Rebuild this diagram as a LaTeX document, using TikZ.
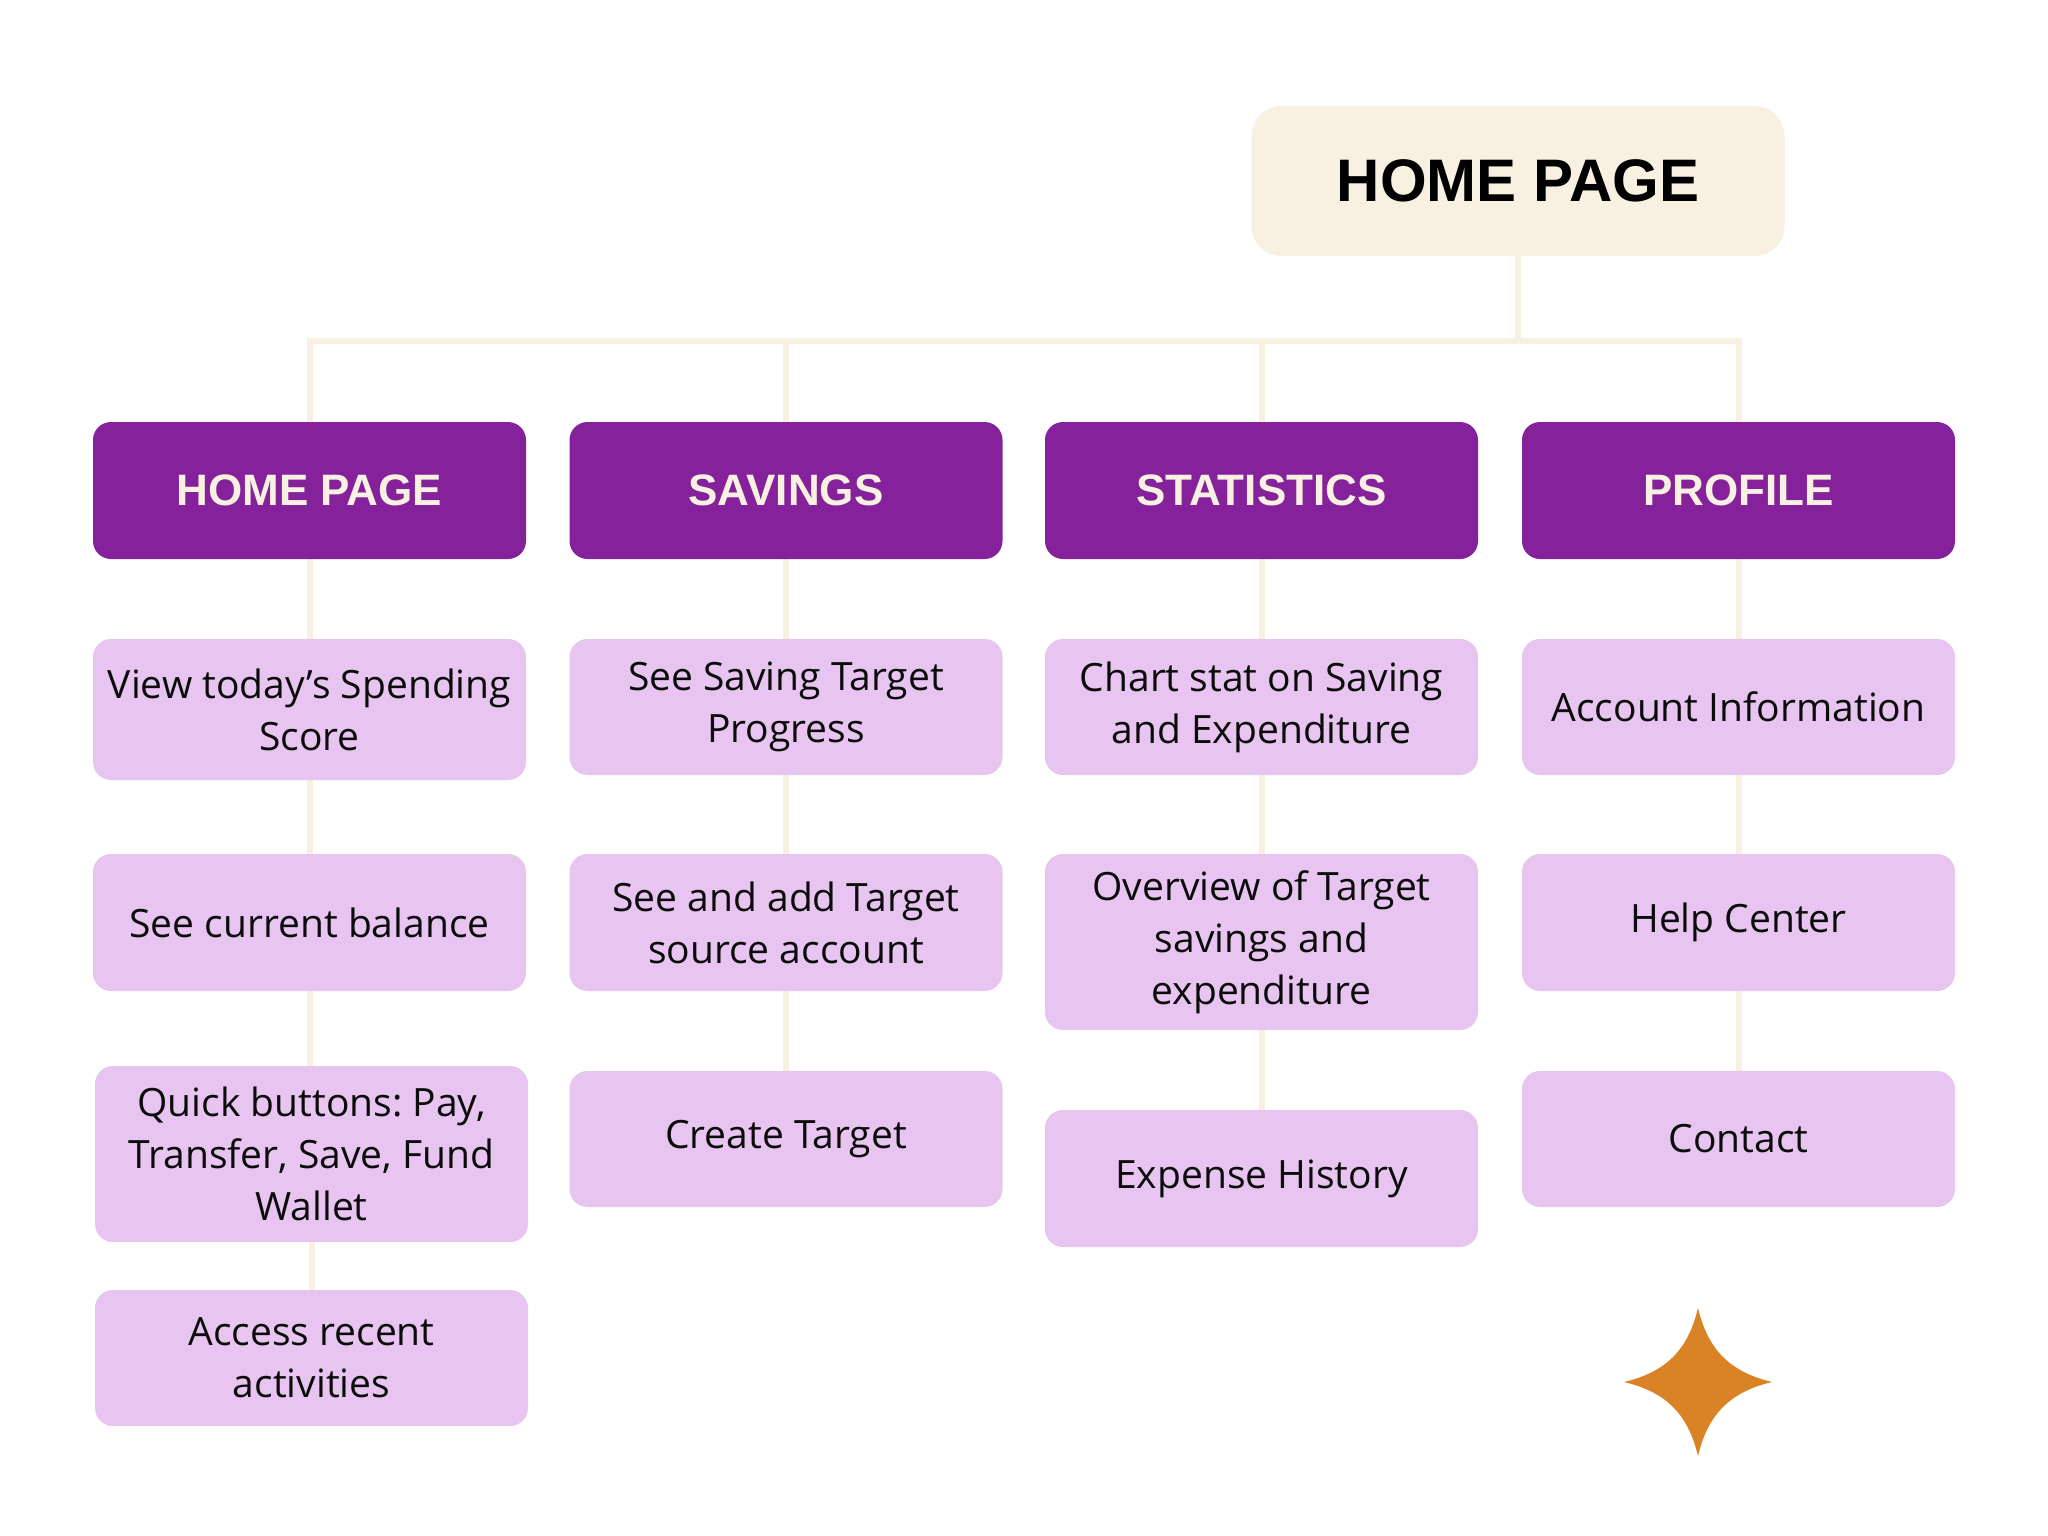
\documentclass[tikz,border=0pt]{standalone}
\usepackage{fontspec}
\setmainfont{Open Sans}
\newfontfamily\headfont{Liberation Sans}
\usetikzlibrary{backgrounds}
\definecolor{cream}{RGB}{248,240,224}
\definecolor{purp}{RGB}{134,33,156}
\definecolor{pinkbox}{RGB}{232,197,240}
\definecolor{starc}{RGB}{217,131,38}
\definecolor{ink}{RGB}{12,12,12}
\frenchspacing
\tikzset{
  titlebox/.style={fill=cream, rounded corners=30pt, minimum width=533pt, minimum height=150pt, inner sep=0pt,
    font=\headfont\bfseries\fontsize{60}{60}\selectfont, text=black},
  headbox/.style={fill=purp, rounded corners=18pt, minimum width=433pt, minimum height=137pt, inner sep=0pt,
    font=\headfont\bfseries\fontsize{44}{44}\selectfont, text=cream},
  itembox/.style={fill=pinkbox, rounded corners=18pt, minimum width=433pt, inner sep=0pt, align=center,
    font=\fontsize{39}{52}\selectfont, text=ink},
  conn/.style={draw=cream, line width=6pt, line join=miter}
}
\begin{document}
\begin{tikzpicture}[x=1pt,y=-1pt]
\useasboundingbox (0,0) rectangle (2048,1536);

\node[titlebox] (title) at (1518,181) {HOME PAGE};

\node[headbox] (h1) at (309.5,490.5) {HOME PAGE};
\node[headbox] (h2) at (786,490.5) {SAVINGS};
\node[headbox] (h3) at (1261.5,490.5) {STATISTICS};
\node[headbox] (h4) at (1738.5,490.5) {PROFILE};

\node[itembox, minimum height=141pt] (a1) at (309.5,709.5) {View today’s Spending\\Score};
\node[itembox, minimum height=137pt] (a2) at (309.5,922.5) {See current balance};
\node[itembox, minimum height=176pt] (a3) at (311.5,1154) {Quick buttons: Pay,\\Transfer, Save, Fund\\Wallet};
\node[itembox, minimum height=136pt] (a4) at (311.5,1358) {Access recent\\activities};

\node[itembox, minimum height=136pt] (b1) at (786,707) {See Saving Target\\Progress};
\node[itembox, minimum height=137pt] (b2) at (786,922.5) {See and add Target\\source account};
\node[itembox, minimum height=136pt] (b3) at (786,1139) {Create Target};

\node[itembox, minimum height=136pt] (c1) at (1261.5,707) {Chart stat on Saving\\and Expenditure};
\node[itembox, minimum height=176pt] (c2) at (1261.5,942) {Overview of Target\\savings and\\expenditure};
\node[itembox, minimum height=137pt] (c3) at (1261.5,1178.5) {Expense History};

\node[itembox, minimum height=136pt] (d1) at (1738.5,707) {Account Information};
\node[itembox, minimum height=137pt] (d2) at (1738.5,922.5) {Help Center};
\node[itembox, minimum height=136pt] (d3) at (1738.5,1139) {Contact};

\coordinate (bus) at (1518,341);

\begin{scope}[on background layer]
\fill[white] (0,0) rectangle (2048,1536);
\draw[conn] (title.south) -- (bus);
\draw[conn] (h1.north) -- (h1.north |- bus) -- (h4.north |- bus) -- (h4.north);
\draw[conn] (h2.north) -- (h2.north |- bus);
\draw[conn] (h3.north) -- (h3.north |- bus);
\draw[conn] (h1.south) -- (a1.north);
\draw[conn] (a1.south) -- (a2.north);
\draw[conn] (a2.south) -- (a2.south |- a3.north);
\draw[conn] (a3.south) -- (a3.south |- a4.north);
\draw[conn] (h2.south) -- (b1.north);
\draw[conn] (b1.south) -- (b2.north);
\draw[conn] (b2.south) -- (b3.north);
\draw[conn] (h3.south) -- (c1.north);
\draw[conn] (c1.south) -- (c2.north);
\draw[conn] (c2.south) -- (c3.north);
\draw[conn] (h4.south) -- (d1.north);
\draw[conn] (d1.south) -- (d2.north);
\draw[conn] (d2.south) -- (d3.north);
\end{scope}

% star
\fill[starc] (1698,1308)
  .. controls (1708,1350) and (1730,1372) .. (1772,1382)
  .. controls (1730,1392) and (1708,1414) .. (1698,1456)
  .. controls (1688,1414) and (1666,1392) .. (1624,1382)
  .. controls (1666,1372) and (1688,1350) .. cycle;
\end{tikzpicture}
\end{document}
